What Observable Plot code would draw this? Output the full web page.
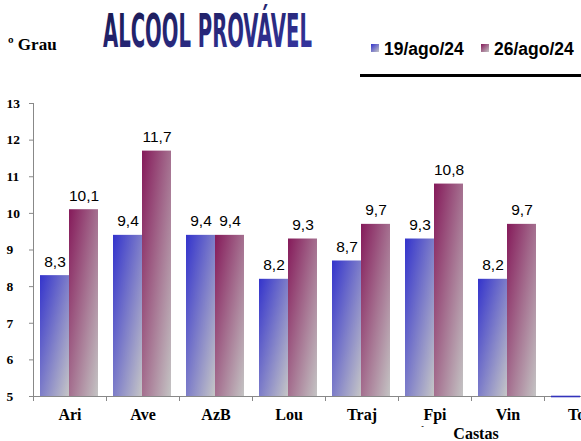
<!DOCTYPE html>
<html><head><meta charset="utf-8">
<script src="https://cdn.jsdelivr.net/npm/d3@7"></script>
<script src="https://cdn.jsdelivr.net/npm/@observablehq/plot@0.6"></script>
<style>
body{margin:0;background:#fff;overflow:hidden}
#wrap{width:581px;height:441px;overflow:hidden;position:relative;background:#fff}
#chart svg{display:block}
</style></head><body>
<div id="wrap">
<svg id="head" width="581" height="90" style="display:block">
 <defs>
  <linearGradient id="gTitle" x1="0" y1="0" x2="1" y2="1"><stop offset="0" stop-color="#17174a"/><stop offset="1" stop-color="#3838a8"/></linearGradient>
  <linearGradient id="hgB" x1="0" y1="0" x2="1" y2="1"><stop offset="0" stop-color="#3333cc"/><stop offset="1" stop-color="#c6c6c6"/></linearGradient>
  <linearGradient id="hgP" x1="0" y1="0" x2="1" y2="1"><stop offset="0" stop-color="#851a5a"/><stop offset="1" stop-color="#c4c4c4"/></linearGradient>
 </defs>
</svg>
<div id="chart"></div>
</div>
<script>
// ---- data ----
const categories = ["Ari", "Ave", "AzB", "Lou", "Traj", "Fpi", "Vin", "Tou"];
const seriesNames = ["19/ago/24", "26/ago/24"];
const values19 = [8.3, 9.4, 9.4, 8.2, 8.7, 9.3, 8.2, 0];
const values26 = [10.1, 11.7, 9.4, 9.3, 9.7, 10.8, 9.7, null];
const yTicks = [5, 6, 7, 8, 9, 10, 11, 12, 13];
const yDomain = [5, 13];
const unitLabel = "º Grau";
const titleText = "ALCOOL PROVÁVEL";
const xLabel = "Castas";

// ---- styling config ----
const styles = [
  {grad: "gB", legGrad: "hgB", insetLeft: 7, insetRight: 37, dx: -15, line: "#3333bb", legX: 371},
  {grad: "gP", legGrad: "hgP", insetLeft: 36, insetRight: 8, dx: 14, line: "#851a5a", legX: 481}
];
const fmt = v => v.toFixed(1).replace(".", ",");
const yMin = yDomain[0];

// ---- header ----
const head = d3.select("#head");
head.append("text").attr("x", 8).attr("y", 50)
  .attr("font-family", "Liberation Serif").attr("font-weight", "bold").attr("font-size", 17)
  .text(unitLabel);
const title = head.append("text").attr("x", 0).attr("y", 0)
  .attr("font-family", "DejaVu Sans Condensed, DejaVu Sans").attr("font-weight", "bold").attr("font-size", 47)
  .attr("fill", "url(#gTitle)").text(titleText);
const natW = title.node().getComputedTextLength() || 450;
title.attr("transform", `translate(103,47) scale(${209 / natW},1)`);
seriesNames.forEach((name, i) => {
  const st = styles[i];
  head.append("rect").attr("x", st.legX).attr("y", 44).attr("width", 8).attr("height", 8)
    .attr("fill", `url(#${st.legGrad})`);
  head.append("text").attr("x", st.legX + 13).attr("y", 55)
    .attr("font-family", "Liberation Sans, Arial").attr("font-weight", "bold").attr("font-size", 17.5)
    .text(name);
});
head.append("line").attr("x1", 360).attr("x2", 581).attr("y1", 75.5).attr("y2", 75.5)
  .attr("stroke", "#000").attr("stroke-width", 3);

// ---- chart ----
const rows = categories.flatMap((c, i) => [
  {cat: c, s: 0, v: values19[i]},
  {cat: c, s: 1, v: values26[i]}
]);

const seriesMarks = styles.flatMap((st, s) => {
  const d = rows.filter(r => r.s === s && r.v != null && r.v > yMin);
  return [
    Plot.barY(d, {x: "cat", y1: yMin, y2: "v", fill: `url(#${st.grad})`, insetLeft: st.insetLeft, insetRight: st.insetRight}),
    Plot.text(d, {x: "cat", y: "v", text: r => fmt(r.v), dx: st.dx, dy: -9, lineAnchor: "bottom",
      fontFamily: "Liberation Sans, Arial", fontSize: 15.5, fill: "#000"})
  ];
});

const chart = Plot.plot({
  width: 581, height: 351,
  marginTop: 13, marginBottom: 45, marginLeft: 33, marginRight: 0,
  style: {background: "transparent", overflow: "hidden"},
  x: {type: "band", domain: categories, range: [33, 617], padding: 0, axis: null, label: null},
  y: {domain: yDomain, axis: null, label: null},
  marks: [
    ...seriesMarks,
    Plot.ruleY([yMin], {stroke: "#888"}),
    Plot.frame({anchor: "left", stroke: "#888"}),
    Plot.tickY(rows.filter(r => r.s === 0 && r.v != null && r.v <= yMin),
      {x: "cat", y: r => Math.max(r.v, yMin), stroke: styles[0].line, strokeWidth: 1.6, insetLeft: styles[0].insetLeft, insetRight: styles[0].insetRight}),
    Plot.axisY(yTicks, {tickSize: 4, tickPadding: 23, textAnchor: "start", stroke: "#888", fill: "#000",
      fontFamily: "Liberation Serif", fontWeight: "bold", fontSize: 13.5, label: null}),
    Plot.axisX({tickSize: 5, dx: -36.5, text: null, stroke: "#888", label: null}),
    Plot.axisX({tickSize: 0, tickPadding: 12, fill: "#000", fontFamily: "Liberation Serif", fontWeight: "bold", fontSize: 16, label: null}),
    Plot.text(["-"], {frameAnchor: "bottom", dx: 115, dy: 32, fontSize: 8, fill: "#000"}),
    Plot.text([xLabel], {frameAnchor: "bottom", dx: 168.5, dy: 42, lineAnchor: "bottom",
      fontFamily: "Liberation Serif", fontWeight: "bold", fontSize: 16, fill: "#000"})
  ]
});

const defs = d3.select(chart).insert("defs", ":first-child");
const gB = defs.append("linearGradient").attr("id", "gB").attr("x1", 0).attr("y1", 0).attr("x2", 1).attr("y2", 1);
gB.append("stop").attr("offset", 0).attr("stop-color", "#3333cc");
gB.append("stop").attr("offset", 1).attr("stop-color", "#c6c6c6");
const gP = defs.append("linearGradient").attr("id", "gP").attr("x1", 0).attr("y1", 0).attr("x2", 1).attr("y2", 1);
gP.append("stop").attr("offset", 0).attr("stop-color", "#851a5a");
gP.append("stop").attr("offset", 1).attr("stop-color", "#c4c4c4");

document.getElementById("chart").appendChild(chart);
</script>
</body></html>
